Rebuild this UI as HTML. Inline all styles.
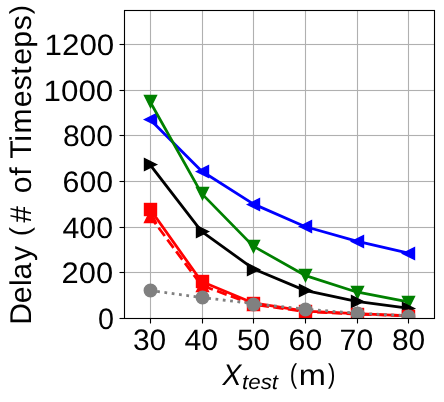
<!DOCTYPE html>
<html lang="en">
<head>
<meta charset="utf-8">
<title>Delay vs X_test</title>
<style>
html,body{margin:0;padding:0;background:#ffffff;}
body{width:444px;height:402px;overflow:hidden;}
svg{display:block;}
text{font-family:"Liberation Sans",sans-serif;fill:#000000;text-rendering:geometricPrecision;}
.it{font-style:italic;}
</style>
</head>
<body>
<svg width="444" height="402" viewBox="0 0 444 402">
<rect x="0" y="0" width="444" height="402" fill="#ffffff"/>
<defs><clipPath id="ax"><rect x="124" y="9.9" width="310" height="308.1"/></clipPath></defs>
<g stroke="#b0b0b0" stroke-width="1.11" fill="none">
<line x1="150.5" y1="9.9" x2="150.5" y2="318"/>
<line x1="202.5" y1="9.9" x2="202.5" y2="318"/>
<line x1="253.5" y1="9.9" x2="253.5" y2="318"/>
<line x1="305.5" y1="9.9" x2="305.5" y2="318"/>
<line x1="357.5" y1="9.9" x2="357.5" y2="318"/>
<line x1="408.5" y1="9.9" x2="408.5" y2="318"/>
<rect x="124" y="271.94" width="310" height="1.11" fill="#b0b0b0" stroke="none"/>
<rect x="124" y="226.94" width="310" height="1.11" fill="#b0b0b0" stroke="none"/>
<rect x="124" y="180.94" width="310" height="1.11" fill="#b0b0b0" stroke="none"/>
<rect x="124" y="134.94" width="310" height="1.11" fill="#b0b0b0" stroke="none"/>
<rect x="124" y="89.94" width="310" height="1.11" fill="#b0b0b0" stroke="none"/>
<rect x="124" y="43.94" width="310" height="1.11" fill="#b0b0b0" stroke="none"/>
</g>
<g stroke="#000000" stroke-width="1.11" fill="none">
<line x1="150.5" y1="318.5" x2="150.5" y2="323.5"/>
<line x1="202.5" y1="318.5" x2="202.5" y2="323.5"/>
<line x1="253.5" y1="318.5" x2="253.5" y2="323.5"/>
<line x1="305.5" y1="318.5" x2="305.5" y2="323.5"/>
<line x1="357.5" y1="318.5" x2="357.5" y2="323.5"/>
<line x1="408.5" y1="318.5" x2="408.5" y2="323.5"/>
<line x1="124.5" y1="272.5" x2="119.5" y2="272.5"/>
<line x1="124.5" y1="227.5" x2="119.5" y2="227.5"/>
<line x1="124.5" y1="181.5" x2="119.5" y2="181.5"/>
<line x1="124.5" y1="135.5" x2="119.5" y2="135.5"/>
<line x1="124.5" y1="90.5" x2="119.5" y2="90.5"/>
<line x1="124.5" y1="44.5" x2="119.5" y2="44.5"/>
<line x1="124.5" y1="318.5" x2="119.5" y2="318.5"/>
</g>
<g clip-path="url(#ax)">
<polyline points="149.83,119.22 201.5,171.02 253.17,203.89 304.83,226.48 356.5,241.09 408.17,252.96" fill="none" stroke="#0000ff" stroke-width="2.78" stroke-linejoin="round" stroke-linecap="square"/>
<polygon points="144.5,119.5 156.5,113.5 156.5,125.5" fill="#0000ff" stroke="#0000ff" stroke-width="1.39" stroke-linejoin="miter"/>
<polygon points="196.5,171.5 208.5,165.5 208.5,177.5" fill="#0000ff" stroke="#0000ff" stroke-width="1.39" stroke-linejoin="miter"/>
<polygon points="247.5,204.5 259.5,198.5 259.5,210.5" fill="#0000ff" stroke="#0000ff" stroke-width="1.39" stroke-linejoin="miter"/>
<polygon points="299.5,226.5 311.5,220.5 311.5,232.5" fill="#0000ff" stroke="#0000ff" stroke-width="1.39" stroke-linejoin="miter"/>
<polygon points="351.5,241.5 363.5,235.5 363.5,247.5" fill="#0000ff" stroke="#0000ff" stroke-width="1.39" stroke-linejoin="miter"/>
<polygon points="402.5,253.5 414.5,247.5 414.5,259.5" fill="#0000ff" stroke="#0000ff" stroke-width="1.39" stroke-linejoin="miter"/>
<polyline points="149.83,101.19 201.5,193.39 253.17,246.11 304.83,275.32 356.5,291.98 408.17,301.8" fill="none" stroke="#008000" stroke-width="2.78" stroke-linejoin="round" stroke-linecap="square"/>
<polygon points="150.5,107.5 144.5,95.5 156.5,95.5" fill="#008000" stroke="#008000" stroke-width="1.39" stroke-linejoin="miter"/>
<polygon points="202.5,199.5 196.5,187.5 208.5,187.5" fill="#008000" stroke="#008000" stroke-width="1.39" stroke-linejoin="miter"/>
<polygon points="253.5,252.5 247.5,240.5 259.5,240.5" fill="#008000" stroke="#008000" stroke-width="1.39" stroke-linejoin="miter"/>
<polygon points="305.5,281.5 299.5,269.5 311.5,269.5" fill="#008000" stroke="#008000" stroke-width="1.39" stroke-linejoin="miter"/>
<polygon points="357.5,298.5 351.5,286.5 363.5,286.5" fill="#008000" stroke="#008000" stroke-width="1.39" stroke-linejoin="miter"/>
<polygon points="408.5,308.5 402.5,296.5 414.5,296.5" fill="#008000" stroke="#008000" stroke-width="1.39" stroke-linejoin="miter"/>
<polyline points="149.83,164.41 201.5,231.28 253.17,268.7 304.83,290.39 356.5,301.34 408.17,308.19" fill="none" stroke="#000000" stroke-width="2.78" stroke-linejoin="round" stroke-linecap="square"/>
<polygon points="156.5,164.5 144.5,158.5 144.5,170.5" fill="#000000" stroke="#000000" stroke-width="1.39" stroke-linejoin="miter"/>
<polygon points="208.5,231.5 196.5,225.5 196.5,237.5" fill="#000000" stroke="#000000" stroke-width="1.39" stroke-linejoin="miter"/>
<polygon points="259.5,269.5 247.5,263.5 247.5,275.5" fill="#000000" stroke="#000000" stroke-width="1.39" stroke-linejoin="miter"/>
<polygon points="311.5,290.5 299.5,284.5 299.5,296.5" fill="#000000" stroke="#000000" stroke-width="1.39" stroke-linejoin="miter"/>
<polygon points="363.5,301.5 351.5,295.5 351.5,307.5" fill="#000000" stroke="#000000" stroke-width="1.39" stroke-linejoin="miter"/>
<polygon points="414.5,308.5 402.5,302.5 402.5,314.5" fill="#000000" stroke="#000000" stroke-width="1.39" stroke-linejoin="miter"/>
<polyline points="149.83,215.98 201.5,285.36 253.17,304.31 304.83,311.61 356.5,314.12 408.17,315.72" fill="none" stroke="#ff0000" stroke-width="2.78" stroke-linejoin="round" stroke-linecap="butt" stroke-dasharray="10.28 4.44"/>
<polygon points="150.5,210.5 144.5,222.5 156.5,222.5" fill="#ff0000" stroke="#ff0000" stroke-width="1.39" stroke-linejoin="miter"/>
<polygon points="202.5,279.5 196.5,291.5 208.5,291.5" fill="#ff0000" stroke="#ff0000" stroke-width="1.39" stroke-linejoin="miter"/>
<polygon points="253.5,298.5 247.5,310.5 259.5,310.5" fill="#ff0000" stroke="#ff0000" stroke-width="1.39" stroke-linejoin="miter"/>
<polygon points="305.5,306.5 299.5,318.5 311.5,318.5" fill="#ff0000" stroke="#ff0000" stroke-width="1.39" stroke-linejoin="miter"/>
<polygon points="357.5,308.5 351.5,320.5 363.5,320.5" fill="#ff0000" stroke="#ff0000" stroke-width="1.39" stroke-linejoin="miter"/>
<polygon points="408.5,310.5 402.5,322.5 414.5,322.5" fill="#ff0000" stroke="#ff0000" stroke-width="1.39" stroke-linejoin="miter"/>
<polyline points="149.83,208.91 201.5,281.48 253.17,302.94 304.83,311.15 356.5,313.66 408.17,315.72" fill="none" stroke="#ff0000" stroke-width="2.78" stroke-linejoin="round" stroke-linecap="square"/>
<rect x="144.5" y="203.5" width="12" height="12" fill="#ff0000" stroke="#ff0000" stroke-width="1.39" stroke-linejoin="miter"/>
<rect x="196.5" y="275.5" width="12" height="12" fill="#ff0000" stroke="#ff0000" stroke-width="1.39" stroke-linejoin="miter"/>
<rect x="247.5" y="297.5" width="12" height="12" fill="#ff0000" stroke="#ff0000" stroke-width="1.39" stroke-linejoin="miter"/>
<rect x="299.5" y="305.5" width="12" height="12" fill="#ff0000" stroke="#ff0000" stroke-width="1.39" stroke-linejoin="miter"/>
<rect x="351.5" y="308.5" width="12" height="12" fill="#ff0000" stroke="#ff0000" stroke-width="1.39" stroke-linejoin="miter"/>
<rect x="402.5" y="310.5" width="12" height="12" fill="#ff0000" stroke="#ff0000" stroke-width="1.39" stroke-linejoin="miter"/>
<polyline points="149.83,290.39 201.5,297.46 253.17,303.62 304.83,309.1 356.5,313.21 408.17,315.72" fill="none" stroke="#808080" stroke-width="2.78" stroke-linejoin="round" stroke-linecap="butt" stroke-dasharray="2.78 4.58"/>
<circle cx="150.5" cy="290.5" r="6.25" fill="#808080" stroke="#808080" stroke-width="1.39" stroke-linejoin="miter"/>
<circle cx="202.5" cy="297.5" r="6.25" fill="#808080" stroke="#808080" stroke-width="1.39" stroke-linejoin="miter"/>
<circle cx="253.5" cy="304.5" r="6.25" fill="#808080" stroke="#808080" stroke-width="1.39" stroke-linejoin="miter"/>
<circle cx="305.5" cy="309.5" r="6.25" fill="#808080" stroke="#808080" stroke-width="1.39" stroke-linejoin="miter"/>
<circle cx="357.5" cy="313.5" r="6.25" fill="#808080" stroke="#808080" stroke-width="1.39" stroke-linejoin="miter"/>
<circle cx="408.5" cy="316.5" r="6.25" fill="#808080" stroke="#808080" stroke-width="1.39" stroke-linejoin="miter"/>
</g>
<rect x="124.5" y="10.5" width="310" height="308" fill="none" stroke="#000000" stroke-width="1.11" stroke-linejoin="miter"/>
<g opacity="0.999">
<text transform="translate(44.59,54.7) scale(1.0594,1.0000)" font-size="29.58">1200</text>
<text transform="translate(43.59,100.7) scale(1.0594,1.0000)" font-size="29.58">1000</text>
<text transform="translate(62.9,145.7) scale(1.0164,1.0000)" font-size="29.58">800</text>
<text transform="translate(62.59,191.7) scale(1.0228,1.0000)" font-size="29.58">600</text>
<text transform="translate(62.49,237.7) scale(1.0248,1.0000)" font-size="29.58">400</text>
<text transform="translate(61.56,282.7) scale(1.0442,1.0000)" font-size="29.58">200</text>
<text transform="translate(97.95,328.7) scale(0.9720,1.0000)" font-size="29.58">0</text>
<text transform="translate(132.9,349.7) scale(1.0110,1.0000)" font-size="29.58">30</text>
<text transform="translate(184.49,349.7) scale(1.0239,1.0000)" font-size="29.58">40</text>
<text transform="translate(236.9,349.7) scale(1.0110,1.0000)" font-size="29.58">50</text>
<text transform="translate(288.59,349.7) scale(1.0209,1.0000)" font-size="29.58">60</text>
<text transform="translate(339.59,349.7) scale(1.0209,1.0000)" font-size="29.58">70</text>
<text transform="translate(391.9,349.7) scale(1.0110,1.0000)" font-size="29.58">80</text>
<text class="it" transform="translate(222.38,384.9) scale(0.9474,1.0000)" font-size="29.86">X</text>
<text class="it" transform="translate(241.98,388.69) scale(1.0701,1.0000)" font-size="20.91">test</text>
<text transform="translate(289.76,383.16) scale(0.7692,0.9428)" font-size="29">(</text>
<text transform="translate(298.82,385) scale(1.1232,1.0026)" font-size="29">m</text>
<text transform="translate(327.88,383.16) scale(0.7692,0.9428)" font-size="29">)</text>
<text transform="translate(31,0) rotate(-90) scale(1.0017,1)" font-size="30" x="-324.22 -302.75 -285.47 -279.04 -260.57 -248.20 -235.82 -222.38 -207.66 -192.94 -175.56 -166.98 -158.40 -141.56 -133.39 -107.08 -90.21 -74.73 -64.65 -47.63 -30.31 -14.33">Delay <tspan font-size="27.45" dy="-1.86">(</tspan><tspan dy="1.86">#</tspan> of Timesteps<tspan font-size="27.45" dy="-1.86">)</tspan></text>
</g>
</svg>
</body>
</html>
